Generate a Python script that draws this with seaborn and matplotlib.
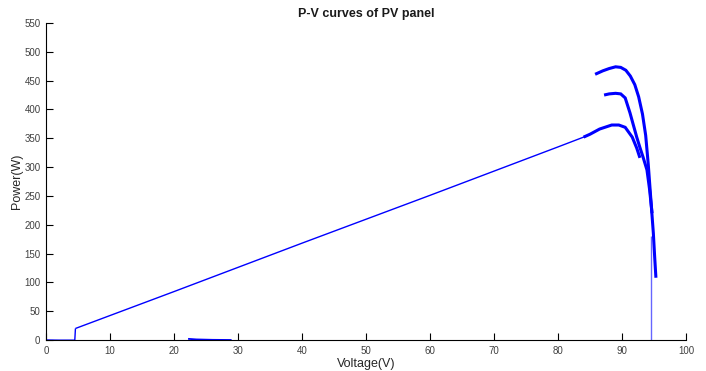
import matplotlib
matplotlib.use("Agg")
import matplotlib.pyplot as plt
import seaborn as sns
import pandas as pd

sns.set_theme(style="ticks")
plt.rcParams["font.family"] = ["Liberation Sans", "DejaVu Sans"]

# Start-up: panel held near zero until the converter kicks in
startup_v = [0.0, 2.0, 4.5, 4.6]
startup_p = [0.0, -0.3, -0.3, 20.0]

# Operating-point sweep up the lowest irradiance curve
ramp_v = [4.6, 20.0, 40.0, 60.0, 75.0, 80.0, 84.0, 85.0, 86.5, 88.4, 89.5, 90.5, 91.6, 92.3, 92.8]
ramp_p = [20.0, 84.0, 168.0, 251.0, 314.0, 335.0, 352.0, 357.0, 366.0, 373.0, 373.0, 369.0, 352.0, 333.0, 316.0]

# Medium irradiance curve
mid_v = [87.2, 88.0, 89.0, 89.8, 90.5, 91.25, 91.8, 92.3, 92.8, 93.3, 93.9, 94.3, 94.7]
mid_p = [425.0, 427.0, 428.0, 427.0, 420.0, 394.0, 372.0, 352.0, 334.0, 317.0, 295.0, 262.0, 220.0]

# High irradiance curve
high_v = [85.8, 87.0, 88.0, 89.0, 89.8, 90.6, 91.3, 92.0, 92.6, 93.2, 93.7, 94.1, 94.5, 94.9, 95.1, 95.3]
high_p = [461.0, 467.0, 471.0, 474.0, 473.0, 468.0, 458.0, 443.0, 422.0, 392.0, 355.0, 305.0, 245.0, 185.0, 145.0, 108.0]

# Brief disturbance near the start and the shutdown drop
blip_v = [22.2, 23.5, 26.0, 29.0]
blip_p = [2.0, 1.0, 0.3, 0.0]
drop_v = [94.55, 94.55]
drop_p = [180.0, 0.0]

x_ticks = [0, 10, 20, 30, 40, 50, 60, 70, 80, 90, 100]
y_ticks = [0, 50, 100, 150, 200, 250, 300, 350, 400, 450, 500, 550]

blue = "#0000ff"

fig = plt.figure(figsize=(7.06, 3.71), dpi=100)
ax = fig.add_axes([46 / 706, 1 - 340 / 371, 640 / 706, 317 / 371])

def trace(v, p, lw, alpha=1.0):
    df = pd.DataFrame({"Voltage": v, "Power": p})
    sns.lineplot(data=df, x="Voltage", y="Power", sort=False, estimator=None,
                 color=blue, linewidth=lw, alpha=alpha, ax=ax,
                 solid_capstyle="butt", solid_joinstyle="miter")

trace(startup_v, startup_p, 1.0)
trace(ramp_v[:8], ramp_p[:8], 1.0)
trace(ramp_v[6:], ramp_p[6:], 2.2)
trace(mid_v, mid_p, 2.2)
trace(high_v, high_p, 2.2)
trace(blip_v, blip_p, 1.3)
trace(drop_v, drop_p, 1.0, alpha=0.6)

ax.set_xlim(0, 100)
ax.set_ylim(0, 550)
ax.set_xticks(x_ticks)
ax.set_yticks(y_ticks)
ax.tick_params(direction="in", length=5, width=0.8, labelsize=7, labelcolor="#404040",
               color="black", pad=4)
for s in ("top", "right"):
    ax.spines[s].set_visible(False)
for s in ("left", "bottom"):
    ax.spines[s].set_color("black")
    ax.spines[s].set_linewidth(0.8)

ax.set_xlabel("Voltage(V)", fontsize=9, color="#262626", labelpad=2)
ax.set_ylabel("Power(W)", fontsize=9, color="#262626", labelpad=1)
ax.set_title("P-V curves of PV panel", fontsize=9, fontweight="bold", color="#1a1a1a", pad=4)

fig.savefig("out.png", dpi=100)
